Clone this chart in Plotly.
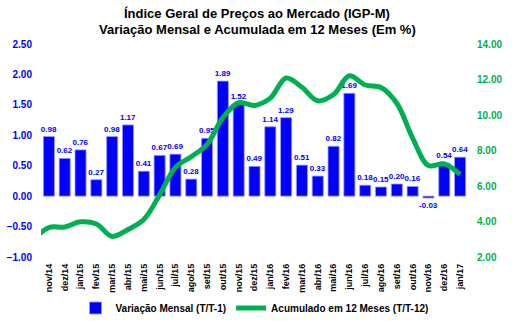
import plotly.graph_objects as go

# IGP-M: monthly change (bars, left axis) and 12-month accumulated (line, right axis)
meses = ["nov/14", "dez/14", "jan/15", "fev/15", "mar/15", "abr/15", "mai/15",
         "jun/15", "jul/15", "ago/15", "set/15", "out/15", "nov/15", "dez/15",
         "jan/16", "fev/16", "mar/16", "abr/16", "mai/16", "jun/16", "jul/16",
         "ago/16", "set/16", "out/16", "nov/16", "dez/16", "jan/17"]
variacao_mensal = [0.98, 0.62, 0.76, 0.27, 0.98, 1.17, 0.41, 0.67, 0.69, 0.28,
                   0.95, 1.89, 1.52, 0.49, 1.14, 1.29, 0.51, 0.33, 0.82, 1.69,
                   0.18, 0.15, 0.20, 0.16, -0.03, 0.54, 0.64]

# the accumulated series carries one earlier month (out/14), so the curve
# enters from the left edge of the plot
meses_acumulado = ["out/14"] + meses
acumulado_12m = [2.96, 3.66, 3.69, 3.98, 3.86, 3.16, 3.55, 4.11, 5.50, 7.05,
                 7.65, 8.35, 9.85, 10.69, 10.54, 10.95, 12.08, 11.56, 10.80,
                 11.15, 12.21, 11.69, 11.55, 10.66, 8.70, 7.15, 7.25, 6.65]

titulo = ["Índice Geral de Preços ao Mercado (IGP-M)",
          "Variação Mensal e Acumulada em 12 Meses (Em %)"]

FONT = "Liberation Sans, Arial, sans-serif"
AZUL = "#0000FF"
VERDE = "#00B050"

W, H = 514, 321
M_L, M_R, M_T, M_B = 41, 46, 44, 64
PLOT_H = H - M_T - M_B

fig = go.Figure()

fig.add_trace(go.Bar(
    x=meses, y=variacao_mensal,
    name="Variação Mensal (T/T-1)",
    marker=dict(color=AZUL, line=dict(color="#9A9AFF", width=0.8)),
    width=0.7,
    texttemplate="%{y:.2f}",
    textposition="outside",
    constraintext="none",
    cliponaxis=False,
    textfont=dict(family=FONT, size=8, color=AZUL, weight="bold"),
))

fig.add_trace(go.Scatter(
    x=meses_acumulado, y=acumulado_12m,
    name="Acumulado em 12 Meses (T/T-12)",
    mode="lines",
    line=dict(color=VERDE, width=5, shape="spline", smoothing=1.0),
    yaxis="y2",
))

# two-line title, each line placed at its own height above the plot
for i, (linha, y_px) in enumerate(zip(titulo, [14, 29])):
    fig.add_annotation(
        text=linha, xref="paper", yref="paper",
        x=(W / 2 - M_L) / (W - M_L - M_R), xanchor="center",
        y=(H - M_B - y_px) / PLOT_H, yanchor="middle",
        showarrow=False,
        font=dict(family=FONT, size=13, color="black", weight="bold"),
    )

fig.update_layout(
    width=W, height=H,
    margin=dict(l=M_L, r=M_R, t=M_T, b=M_B, autoexpand=False),
    paper_bgcolor="white", plot_bgcolor="white",
    font=dict(family=FONT, color="black"),
    xaxis=dict(
        type="category",
        categoryorder="array", categoryarray=meses_acumulado,
        range=[0.5, len(meses_acumulado) - 0.5],
        tickangle=-90,
        tickfont=dict(family=FONT, size=9, color="black", weight="bold"),
        showgrid=False, zeroline=False, showline=False, ticks="",
        ticklabelstandoff=4, automargin=False,
    ),
    yaxis=dict(
        range=[-1.0, 2.5], dtick=0.5, tickformat=".2f",
        tickfont=dict(family=FONT, size=10, color=AZUL, weight="bold"),
        showgrid=False, zeroline=False, showline=False, ticks="",
        ticklabelstandoff=8, automargin=False,
    ),
    yaxis2=dict(
        overlaying="y", side="right",
        range=[2.0, 14.0], dtick=2, tickformat=".2f",
        tickfont=dict(family=FONT, size=10, color=VERDE, weight="bold"),
        showgrid=False, zeroline=False, showline=False, ticks="",
        ticklabelstandoff=8, automargin=False,
    ),
    legend=dict(
        orientation="h", x=0.5, xanchor="center",
        y=(H - M_B - 308) / PLOT_H, yanchor="middle",
        font=dict(family=FONT, size=10, color="black", weight="bold"),
        itemwidth=30, tracegroupgap=0,
    ),
    bargap=0.3,
)

fig.write_html("out.html")
